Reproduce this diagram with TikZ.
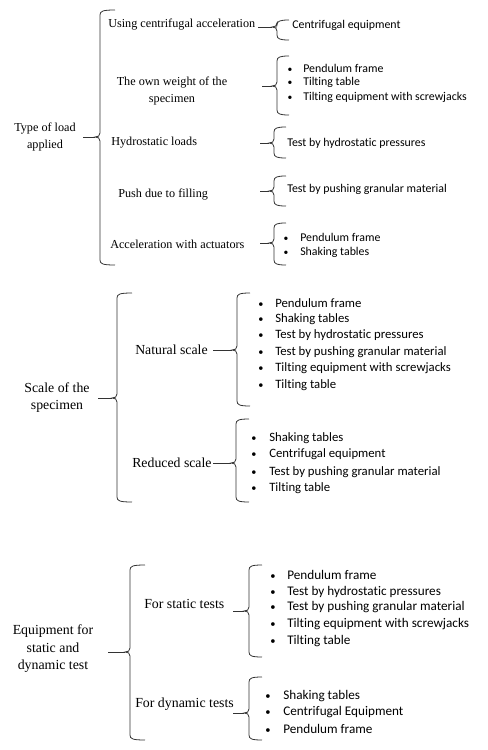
\documentclass[tikz,border=0pt]{standalone}
\usepackage{fontspec}
\setmainfont{Liberation Serif}
\newfontfamily\itemfont[Ligatures=NoCommon]{Carlito}
\newcommand\mybrace[5]{% x, top, mid, bottom, curl width
  \draw[bracestyle] (#1+#5,#2) .. controls (#1+3,#2) and (#1,#2+1) .. (#1,#2+5)
    -- (#1,#3-4) .. controls (#1,#3-1) and (#1-2,#3) .. (#1-5,#3)
    .. controls (#1-2,#3) and (#1,#3+1) .. (#1,#3+4)
    -- (#1,#4-5) .. controls (#1,#4-1) and (#1+3,#4) .. (#1+#5,#4);}
\newcommand\bitem[5]{% name, bullet x, text x, y, text
  \node[itm] (#1) at (#3,#4) {#5};
  \coordinate (#1bx) at (#2,0);
  \node[bul] (#1b) at (#1.base -| #1bx) {•};}
\begin{document}
\begin{tikzpicture}[x=0.75pt,y=-0.75pt,
  bracestyle/.style={draw=black!80,line width=0.6pt},
  conn/.style={draw=black!80,line width=0.6pt},
  lab/.style={anchor=west,inner sep=0pt,text=black},
  mlab/.style={anchor=center,inner sep=0pt,align=center,text=black},
  itm/.style={anchor=west,inner sep=0pt,text=black},
  bul/.style={anchor=base,inner sep=0pt,text=black}]
\useasboundingbox (0,0) rectangle (487,750);

% ---------- Section 1 ----------
\begin{scope}[lab/.append style={font=\fontsize{9.15}{11}\selectfont},
  mlab/.append style={font=\fontsize{9.15}{12.8}\selectfont},
  itm/.append style={font=\itemfont\fontsize{8.9}{10}\selectfont},
  bul/.append style={font=\itemfont\fontsize{7.2}{8}\selectfont}]
\node[mlab] (type) at (45,137) {Type of load\\applied};
\mybrace{100}{10}{137}{265}{15}
\coordinate (t1s) at (83,137); \coordinate (t1e) at (95,137);
\draw[conn] (t1s) -- (t1e);

\node[lab] (l1) at (108,25) {Using centrifugal acceleration};
\mybrace{277}{20}{27}{40}{12}
\coordinate (c1s) at (258,27); \coordinate (c1e) at (272,27);
\draw[conn] (c1s) -- (c1e);
\node[itm] (r1) at (292,25) {Centrifugal equipment};

\node[mlab] (l2) at (172,91) {The own weight of the\\specimen};
\mybrace{277}{56}{86}{115}{12}
\coordinate (c2s) at (262,86); \coordinate (c2e) at (272,86);
\draw[conn] (c2s) -- (c2e);
\bitem{r2a}{290}{303}{68}{Pendulum frame}
\bitem{r2b}{290}{303}{82}{Tilting table}
\bitem{r2c}{290}{303}{97}{Tilting equipment with screwjacks}

\node[lab] (l3) at (111,143) {Hydrostatic loads};
\mybrace{274}{127}{143}{158}{12}
\coordinate (c3s) at (260,143); \coordinate (c3e) at (269,143);
\draw[conn] (c3s) -- (c3e);
\node[itm] (r3) at (287,143) {Test by hydrostatic pressures};

\node[lab] (l4) at (118,195) {Push due to filling};
\mybrace{274}{176}{191}{206}{12}
\coordinate (c4s) at (260,191); \coordinate (c4e) at (269,191);
\draw[conn] (c4s) -- (c4e);
\node[itm] (r4) at (287,189) {Test by pushing granular material};

\node[lab] (l5) at (110,244) {Acceleration with actuators};
\mybrace{274}{223}{243}{265}{12}
\coordinate (c5s) at (260,243); \coordinate (c5e) at (269,243);
\draw[conn] (c5s) -- (c5e);
\bitem{r5a}{286}{300}{237}{Pendulum frame}
\bitem{r5b}{286}{300}{252}{Shaking tables}
\end{scope}

% ---------- Section 2 ----------
\begin{scope}[lab/.append style={font=\fontsize{10.35}{12}\selectfont},
  mlab/.append style={font=\fontsize{10.35}{12.8}\selectfont},
  itm/.append style={font=\itemfont\fontsize{9.56}{11}\selectfont},
  bul/.append style={font=\itemfont\fontsize{7.7}{9}\selectfont}]
\node[mlab] (scale) at (57,398) {Scale of the\\specimen};
\mybrace{117}{293}{398}{502}{15}
\coordinate (t2s) at (98,398); \coordinate (t2e) at (112,398);
\draw[conn] (t2s) -- (t2e);

\node[lab] (n1) at (135,350) {Natural scale};
\mybrace{237}{293}{350}{406}{13}
\coordinate (d1s) at (213,350); \coordinate (d1e) at (232,350);
\draw[conn] (d1s) -- (d1e);
\bitem{na}{261}{275}{303}{Pendulum frame}
\bitem{nb}{261}{275}{319}{Shaking tables}
\bitem{nc}{261}{275}{335}{Test by hydrostatic pressures}
\bitem{nd}{261}{275}{352}{Test by pushing granular material}
\bitem{ne}{261}{275}{368}{Tilting equipment with screwjacks}
\bitem{nf}{261}{275}{385}{Tilting table}

\node[lab] (n2) at (132,463) {Reduced scale};
\mybrace{236}{419}{463}{502}{13}
\coordinate (d2s) at (213,463); \coordinate (d2e) at (231,463);
\draw[conn] (d2s) -- (d2e);
\bitem{ra}{254}{269}{438}{Shaking tables}
\bitem{rb}{254}{269}{454}{Centrifugal equipment}
\bitem{rc}{254}{269}{472}{Test by pushing granular material}
\bitem{rd}{254}{269}{488}{Tilting table}
\end{scope}

% ---------- Section 3 ----------
\begin{scope}[lab/.append style={font=\fontsize{10.4}{12}\selectfont},
  mlab/.append style={font=\fontsize{10.4}{13.1}\selectfont},
  itm/.append style={font=\itemfont\fontsize{9.9}{11}\selectfont},
  bul/.append style={font=\itemfont\fontsize{7.9}{9}\selectfont}]
\node[mlab] (equip) at (53,649) {Equipment for\\static and\\dynamic test};
\mybrace{130}{565}{652}{740}{15}
\coordinate (t3s) at (108,652); \coordinate (t3e) at (125,652);
\draw[conn] (t3s) -- (t3e);

\node[lab] (e1) at (144,604) {For static tests};
\mybrace{249}{565}{611}{657}{13}
\coordinate (f1s) at (233,611); \coordinate (f1e) at (244,611);
\draw[conn] (f1s) -- (f1e);
\bitem{sa}{273}{287}{575}{Pendulum frame}
\bitem{sb}{273}{287}{592}{Test by hydrostatic pressures}
\bitem{sc}{273}{287}{607}{Test by pushing granular material}
\bitem{sd}{273}{287}{624}{Tilting equipment with screwjacks}
\bitem{se}{273}{287}{641}{Tilting table}

\node[lab] (e2) at (135,704) {For dynamic tests};
\mybrace{249}{677}{713}{740}{13}
\coordinate (f2s) at (233,713); \coordinate (f2e) at (244,713);
\draw[conn] (f2s) -- (f2e);
\bitem{da}{268}{283}{696}{Shaking tables}
\bitem{db}{268}{283}{712}{Centrifugal Equipment}
\bitem{dc}{268}{283}{729}{Pendulum frame}
\end{scope}
\end{tikzpicture}
\end{document}
